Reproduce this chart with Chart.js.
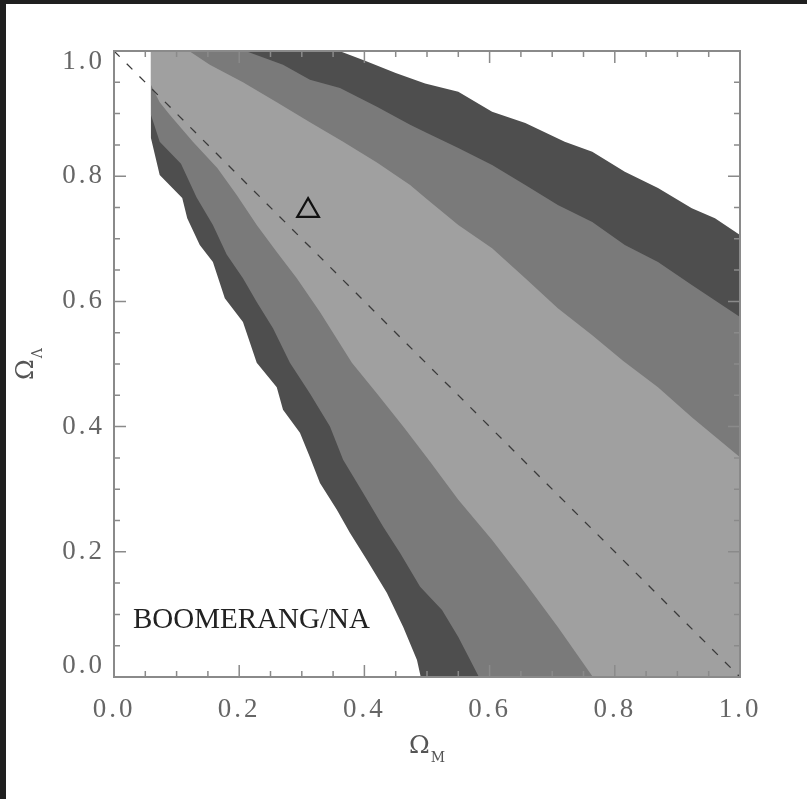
<!DOCTYPE html>
<html>
<head>
<meta charset="utf-8">
<title>BOOMERANG/NA</title>
<script src="https://cdn.jsdelivr.net/npm/chart.js@4.4.1/dist/chart.umd.min.js"></script>
<style>
  html, body { margin: 0; padding: 0; background: #1f1f1f; }
  #wrap { position: absolute; left: 6px; top: 4px; width: 801px; height: 795px; background: #fff; }
</style>
</head>
<body>
<div id="wrap"><canvas id="chart"></canvas></div>
<script>
// grid edge in Omega_M where the likelihood contours start
const omegaMMin = 0.059;
const tickLabels = ['0.0', '0.2', '0.4', '0.6', '0.8', '1.0'];

// [Omega_M, Omega_Lambda] along the upper (right) edge of each region, top -> right
const innerUpper = [[0.12, 1.0], [0.153, 0.978], [0.206, 0.950], [0.260, 0.918], [0.313, 0.886], [0.366, 0.855], [0.420, 0.822], [0.473, 0.786], [0.50, 0.763], [0.550, 0.722], [0.604, 0.685], [0.657, 0.637], [0.709, 0.589], [0.764, 0.546], [0.813, 0.505], [0.869, 0.463], [0.923, 0.415], [1.0, 0.351]];
const middleUpper = [[0.21, 1.0], [0.270, 0.978], [0.313, 0.954], [0.361, 0.941], [0.420, 0.911], [0.473, 0.882], [0.50, 0.869], [0.550, 0.845], [0.604, 0.818], [0.657, 0.786], [0.709, 0.754], [0.764, 0.727], [0.816, 0.690], [0.869, 0.663], [0.923, 0.626], [1.0, 0.575]];
const outerUpper = [[0.36, 1.0], [0.40, 0.985], [0.45, 0.965], [0.497, 0.948], [0.550, 0.935], [0.604, 0.903], [0.657, 0.885], [0.720, 0.855], [0.764, 0.839], [0.816, 0.807], [0.869, 0.781], [0.923, 0.749], [0.960, 0.733], [1.0, 0.706]];

// lower (left) edge of each region, left edge -> bottom
const innerLower = [[0.059, 0.946], [0.073, 0.918], [0.089, 0.898], [0.126, 0.855], [0.165, 0.813], [0.196, 0.770], [0.228, 0.722], [0.260, 0.679], [0.292, 0.637], [0.329, 0.583], [0.380, 0.502], [0.420, 0.453], [0.462, 0.400], [0.505, 0.344], [0.550, 0.283], [0.604, 0.219], [0.657, 0.150], [0.709, 0.080], [0.765, 0.0]];
const middleLower = [[0.059, 0.898], [0.073, 0.855], [0.107, 0.820], [0.132, 0.766], [0.158, 0.722], [0.180, 0.675], [0.206, 0.637], [0.228, 0.599], [0.254, 0.557], [0.281, 0.502], [0.313, 0.453], [0.345, 0.400], [0.366, 0.347], [0.398, 0.294], [0.430, 0.240], [0.457, 0.198], [0.489, 0.144], [0.524, 0.107], [0.550, 0.064], [0.583, 0.0]];
const outerLower = [[0.059, 0.861], [0.073, 0.802], [0.109, 0.765], [0.117, 0.733], [0.137, 0.690], [0.158, 0.663], [0.177, 0.605], [0.206, 0.567], [0.228, 0.502], [0.260, 0.463], [0.270, 0.427], [0.297, 0.390], [0.313, 0.351], [0.329, 0.310], [0.356, 0.267], [0.377, 0.230], [0.404, 0.187], [0.436, 0.134], [0.462, 0.080], [0.484, 0.027], [0.490, 0.0]];

const flatLine = [[0.0, 1.0], [1.0, 0.0]];
const concordance = [[0.31, 0.745]];

const toPoints = (pairs) => pairs.map(([x, y]) => ({ x, y }));

// closed outline: left edge top corner, upper edge, bottom-right corner, lower edge back up
const region = (upper, lower) => toPoints([[omegaMMin, 1.0], ...upper, [1.0, 0.0], ...lower.slice().reverse()]);

const isMajor = (v) => tickLabels.some((t) => Math.abs(parseFloat(t) - v) < 1e-6);

const serif = 'Liberation Serif';
const titleFont = 'DejaVu Serif';

const framePlugin = {
  id: 'frame',
  beforeDraw(chart) {
    // wide spacing of the tick numbers, like the original plot font
    chart.ctx.letterSpacing = '3px';
  },
  afterDatasetsDraw(chart) {
    const { ctx, chartArea: a, scales: { x, y } } = chart;
    ctx.save();
    ctx.strokeStyle = '#8a8a8a';
    ctx.lineWidth = 1.5;
    ctx.beginPath();
    x.ticks.forEach((t) => {
      const px = x.getPixelForValue(t.value);
      const len = isMajor(t.value) ? 12 : 6;
      ctx.moveTo(px, a.bottom);
      ctx.lineTo(px, a.bottom - len);
      ctx.moveTo(px, a.top);
      ctx.lineTo(px, a.top + len);
    });
    y.ticks.forEach((t) => {
      const py = y.getPixelForValue(t.value);
      const len = isMajor(t.value) ? 12 : 6;
      ctx.moveTo(a.left, py);
      ctx.lineTo(a.left + len, py);
      ctx.moveTo(a.right, py);
      ctx.lineTo(a.right - len, py);
    });
    ctx.stroke();
    ctx.lineWidth = 2;
    ctx.strokeRect(a.left, a.top, a.width, a.height);
    ctx.restore();
  },
  afterDraw(chart) {
    const { ctx, chartArea: a } = chart;
    ctx.save();
    ctx.letterSpacing = '0px';
    ctx.textBaseline = 'alphabetic';
    ctx.textAlign = 'left';

    ctx.fillStyle = '#222';
    ctx.font = `29px "${serif}"`;
    ctx.fillText('BOOMERANG/NA', a.left + 19, a.bottom - 49);

    // axis titles with subscripts
    ctx.fillStyle = '#555';
    ctx.font = `25px "${titleFont}"`;
    const omegaW = ctx.measureText('Ω').width;
    ctx.font = `14px "${titleFont}"`;
    const mW = ctx.measureText('M').width;
    const lW = ctx.measureText('Λ').width;

    let x0 = (a.left + a.right) / 2 - (omegaW + 1 + mW) / 2;
    ctx.font = `25px "${titleFont}"`;
    ctx.fillText('Ω', x0, a.bottom + 76);
    ctx.font = `14px "${titleFont}"`;
    ctx.fillText('M', x0 + omegaW + 1, a.bottom + 85);

    ctx.translate(a.left - 81, (a.top + a.bottom) / 2);
    ctx.rotate(-Math.PI / 2);
    x0 = -(omegaW + 1 + lW) / 2;
    ctx.font = `25px "${titleFont}"`;
    ctx.fillText('Ω', x0, 0);
    ctx.font = `14px "${titleFont}"`;
    ctx.fillText('Λ', x0 + omegaW + 1, 9);
    ctx.restore();
  },
};

const fillSet = (data, color, order) => ({
  data,
  showLine: true,
  fill: 'shape',
  backgroundColor: color,
  borderWidth: 0,
  pointRadius: 0,
  tension: 0,
  order,
});

new Chart(document.getElementById('chart'), {
  type: 'scatter',
  data: {
    datasets: [
      fillSet(region(outerUpper, outerLower), '#4e4e4e', 5),
      fillSet(region(middleUpper, middleLower), '#7a7a7a', 4),
      fillSet(region(innerUpper, innerLower), '#a0a0a0', 3),
      {
        data: toPoints(flatLine),
        showLine: true,
        borderColor: '#3a3a3a',
        borderWidth: 1.3,
        borderDash: [8, 10],
        pointRadius: 0,
        fill: false,
        order: 2,
      },
      {
        data: toPoints(concordance),
        pointStyle: 'triangle',
        pointRadius: 12.5,
        borderWidth: 2.2,
        borderColor: '#111',
        backgroundColor: 'rgba(0,0,0,0)',
        order: 1,
      },
    ],
  },
  options: {
    responsive: true,
    maintainAspectRatio: false,
    animation: false,
    events: [],
    layout: { padding: { top: 47, right: 67, left: 0, bottom: 0 } },
    plugins: {
      legend: { display: false },
      tooltip: { enabled: false },
      filler: { propagate: false },
    },
    scales: {
      x: {
        type: 'linear',
        min: 0,
        max: 1,
        grid: { display: false, drawTicks: false },
        border: { display: false },
        afterFit: (scale) => { scale.height = 122; },
        ticks: {
          stepSize: 0.05,
          autoSkip: false,
          maxRotation: 0,
          padding: 17,
          color: '#666',
          font: { family: serif, size: 27, lineHeight: 1.2 },
          callback: (v) => (isMajor(v) ? v.toFixed(1) : ''),
        },
      },
      y: {
        type: 'linear',
        min: 0,
        max: 1,
        grid: { display: false, drawTicks: false },
        border: { display: false },
        afterFit: (scale) => { scale.width = 108; },
        ticks: {
          stepSize: 0.05,
          autoSkip: false,
          padding: 9,
          color: '#666',
          font: { family: serif, size: 27, lineHeight: 0.8 },
          callback: (v) => {
            if (!isMajor(v)) return '';
            const s = v.toFixed(1);
            // end labels sit inside the frame, as in the original
            if (v > 0.999) return ['', s];
            if (v < 0.001) return [s, ''];
            return s;
          },
        },
      },
    },
  },
  plugins: [framePlugin],
});
</script>
</body>
</html>
